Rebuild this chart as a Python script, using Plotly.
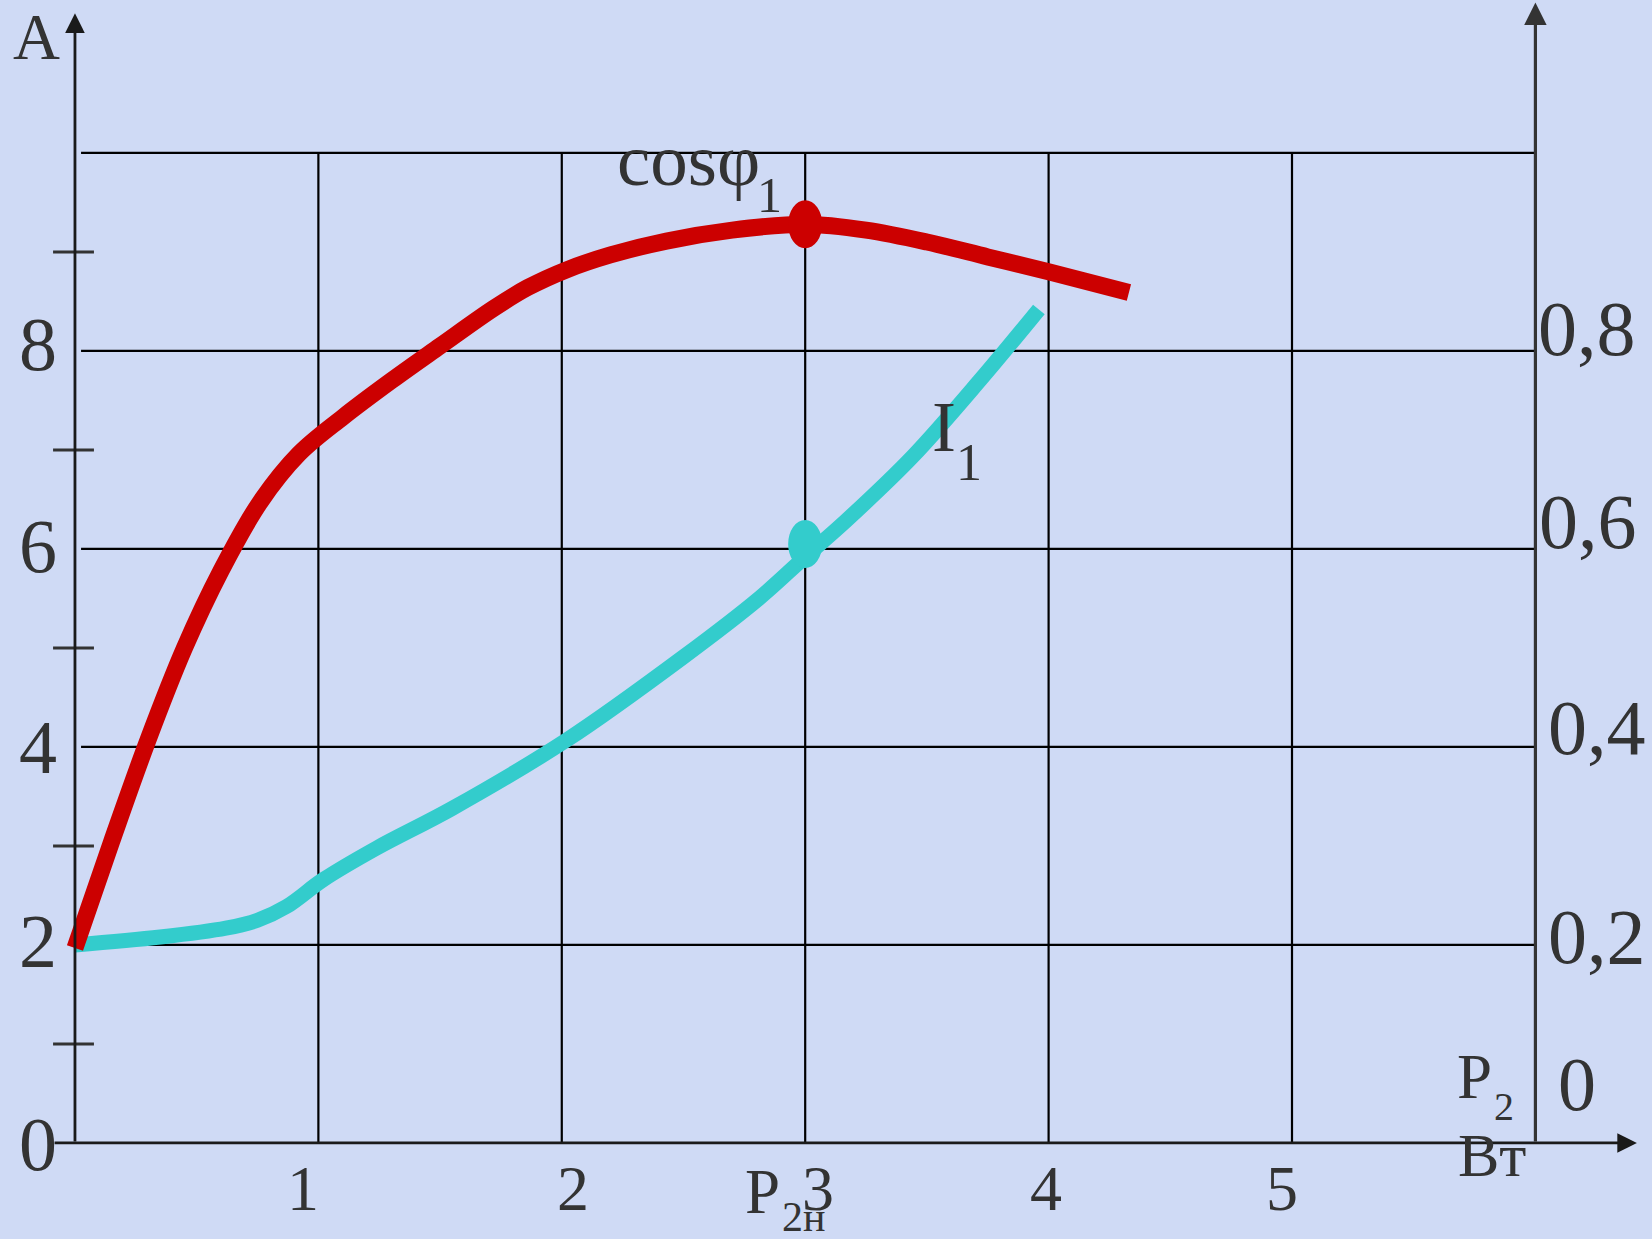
import plotly.graph_objects as go

# ---------------- data ----------------
# output power P2, Вт (x axis)
p_cos = [0.0, 0.15, 0.3, 0.45, 0.6, 0.76, 0.92, 1.1, 1.3, 1.5, 1.72, 1.86,
         2.02, 2.2, 2.43, 2.70, 3.0, 3.25, 3.5, 3.75, 4.0, 4.33]
cos_phi = [0.197, 0.304, 0.407, 0.500, 0.578, 0.647, 0.696, 0.733, 0.770, 0.805, 0.843, 0.864,
           0.882, 0.897, 0.911, 0.922, 0.928, 0.922, 0.910, 0.895, 0.880, 0.859]

p_cur = [0.0, 0.35, 0.62, 0.75, 0.87, 1.02, 1.24, 1.55, 2.02, 2.5, 2.81, 3.0, 3.17, 3.44, 3.72, 3.96]
i1 = [2.0, 2.08, 2.17, 2.25, 2.39, 2.66, 2.98, 3.38, 4.07, 4.91, 5.5, 5.92, 6.29, 6.93, 7.71, 8.42]

rated_p = 3.0        # P2н
rated_cos = 0.928
rated_i = 6.05

x_ticks = [1, 2, 3, 4, 5]
x_tick_labels = ["1", "2", "3", "4", "5"]
y_left_ticks = [0, 2, 4, 6, 8]
y_left_labels = ["0", "2", "4", "6", "8"]
y_minor_ticks = [1, 3, 5, 7, 9]
y_right_ticks = [0.2, 0.4, 0.6, 0.8]
y_right_labels = ["0,2", "0,4", "0,6", "0,8"]
grid_y = [2, 4, 6, 8, 10]

# ---------------- styling ----------------
BG = "#cfdaf5"
TXT = "#333333"
FONT = "Liberation Serif, Times New Roman, serif"
RED = "#cc0000"
CYAN = "#33cccc"

X_RANGE = [-0.308, 6.479]
Y_RANGE = [-0.970, 11.545]
Y2_RANGE = [Y_RANGE[0] / 10, Y_RANGE[1] / 10]
X_MAX = 6.0   # right axis position
Y_TOP = 10.0

fig = go.Figure()

fig.add_trace(go.Scatter(
    x=p_cos, y=cos_phi, yaxis="y2", mode="lines", name="cosφ1",
    line=dict(color=RED, width=17, shape="spline", smoothing=1.0),
    hoverinfo="skip", showlegend=False))
fig.add_trace(go.Scatter(
    x=p_cur, y=i1, mode="lines", name="I1",
    line=dict(color=CYAN, width=15, shape="spline", smoothing=1.0),
    hoverinfo="skip", showlegend=False))

shapes = []
# vertical grid lines
for xv in x_ticks:
    shapes.append(dict(type="line", xref="x", yref="y", x0=xv, x1=xv, y0=0, y1=Y_TOP,
                       line=dict(color="#000000", width=2.2), layer="below"))
# horizontal grid lines
for yv in grid_y:
    shapes.append(dict(type="line", xref="x", yref="y", x0=0.025, x1=X_MAX, y0=yv, y1=yv,
                       line=dict(color="#000000", width=2.2), layer="below"))
# minor ticks on left axis
for yv in y_minor_ticks:
    shapes.append(dict(type="line", xref="x", yref="y", x0=-0.09, x1=0.078, y0=yv, y1=yv,
                       line=dict(color="#333333", width=3), layer="below"))
# rated-point ellipses
hw, hh = 0.07, 0.243
shapes.append(dict(type="circle", xref="x", yref="y2",
                   x0=rated_p - hw, x1=rated_p + hw,
                   y0=rated_cos - hh / 10, y1=rated_cos + hh / 10,
                   fillcolor=RED, line=dict(width=0), layer="above"))
shapes.append(dict(type="circle", xref="x", yref="y",
                   x0=rated_p - hw, x1=rated_p + hw,
                   y0=rated_i - hh, y1=rated_i + hh,
                   fillcolor=CYAN, line=dict(width=0), layer="above"))

ann = []


def arrow(x0, y0, x1, y1, color, width):
    ann.append(dict(x=x1, y=y1, ax=x0, ay=y0, xref="x", yref="y", axref="x", ayref="y",
                    text="", showarrow=True, arrowhead=2, arrowsize=1.4,
                    arrowwidth=width, arrowcolor=color, standoff=0, startstandoff=0))


# axes with arrows
arrow(0, 0, 0, 11.41, "#1a1a1a", 2.8)          # left axis (A)
arrow(X_MAX, 0, X_MAX, 11.52, "#333333", 3.2)  # right axis (cos)
arrow(-0.09, 0, 6.417, 0, "#1a1a1a", 2.8)      # x axis (P2)


def text(t, x, y, size, yref="y", xanchor="center"):
    ann.append(dict(text=t, x=x, y=y, xref="x", yref=yref, showarrow=False,
                    xanchor=xanchor, yanchor="middle",
                    font=dict(family=FONT, size=size, color=TXT)))


# left axis labels
left_dy = [-0.01, 0.04, 0.0, 0.03, 0.07]
for v, lab, d in zip(y_left_ticks, y_left_labels, left_dy):
    text(lab, -0.15, v + d, 76)
text("A", -0.16, 11.17, 65)

# x tick labels
x_dx = [-0.063, 0.046, 0.053, -0.011, -0.041]
for v, lab, d in zip(x_ticks, x_tick_labels, x_dx):
    text(lab, v + d, -0.455, 64)

# right axis labels
right_x = [6.255, 6.255, 6.215, 6.21]
right_dy = [0.009, 0.02, 0.028, 0.023]
for v, lab, xx, d in zip(y_right_ticks, y_right_labels, right_x, right_dy):
    text(lab, xx, v + d, 78, yref="y2")
text("0", 6.169, 0.060, 76, yref="y2")

# curve labels
text("cosφ", 2.219, 9.93, 75, xanchor="left")
text("1", 2.853, 9.571, 50)
text("I", 3.570, 7.232, 72)
text("1", 3.671, 6.874, 52)

# P2н under the 3
text("P", 2.825, -0.50, 63)
text("2н", 2.993, -0.745, 42)

# x axis title P2, Вт
text("P", 5.748, 0.667, 63)
text("2", 5.871, 0.37, 40)
text("Вт", 5.82, -0.12, 62)

fig.update_layout(
    width=1652, height=1239,
    margin=dict(l=0, r=0, t=0, b=0, pad=0),
    paper_bgcolor=BG, plot_bgcolor=BG,
    xaxis=dict(range=X_RANGE, visible=False, fixedrange=True),
    yaxis=dict(range=Y_RANGE, visible=False, fixedrange=True),
    yaxis2=dict(range=Y2_RANGE, visible=False, overlaying="y", fixedrange=True),
    shapes=shapes, annotations=ann, showlegend=False,
)

fig.write_html("out.html", config={"displayModeBar": False},
               post_script="document.body.style.margin='0';document.body.style.overflow='hidden';")
